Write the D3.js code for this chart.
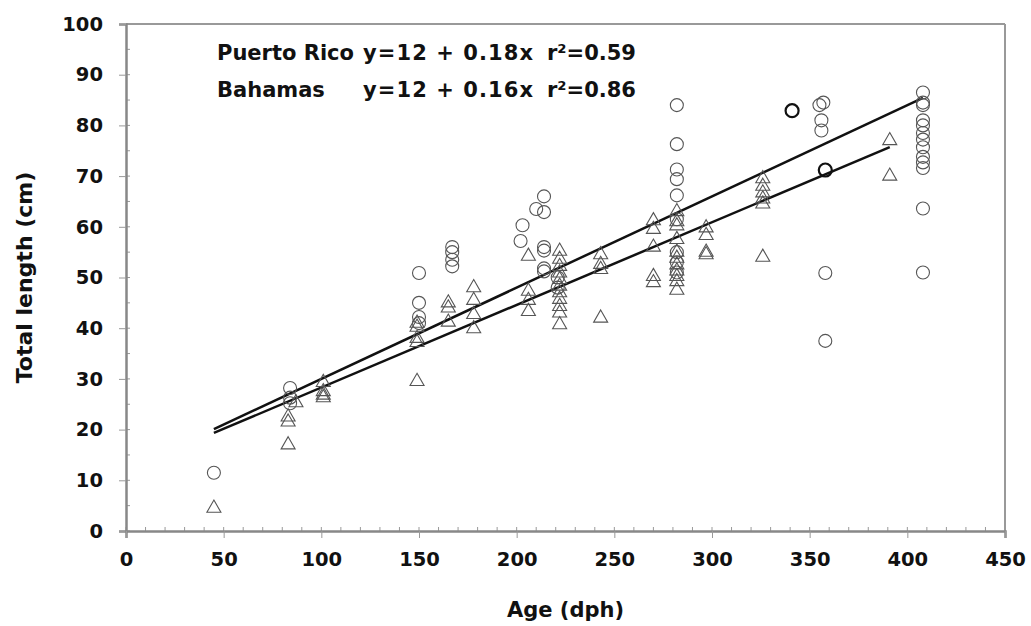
<!DOCTYPE html>
<html>
<head>
<meta charset="utf-8">
<script src="https://cdn.jsdelivr.net/npm/d3@7"></script>
<style>
  body { margin: 0; background: #fff; }
  text { font-family: "DejaVu Sans", Verdana, sans-serif; font-weight: bold; fill: #111; }
</style>
</head>
<body>
<svg id="chart"></svg>
<script>
// Puerto Rico (circles)
let prAge = [45, 84, 84, 84, 150, 150, 150, 150, 167, 167, 167, 167, 203, 202, 214, 210, 214, 214, 214, 214, 214,
             221, 221, 282, 282, 282, 282, 282, 282, 282, 282, 282, 341, 357, 355, 356, 356, 358, 358, 358,
             408, 408, 408, 408, 408, 408, 408, 408, 408, 408, 408, 408, 408]
let prLength = [11.5, 28.2, 26.3, 25.2, 50.9, 45.0, 42.2, 41.0, 56.0, 55.0, 53.5, 52.2, 60.3, 57.2, 66.0, 63.5, 62.9, 56.0, 55.3, 51.8, 51.2,
                50.0, 48.0, 84.0, 76.3, 71.3, 69.4, 66.2, 61.5, 55.0, 53.0, 51.0, 82.9, 84.5, 84.0, 81.0, 79.0, 71.2, 50.9, 37.5,
                86.5, 84.5, 84.0, 81.0, 80.0, 78.5, 77.2, 75.7, 73.8, 72.7, 71.6, 63.6, 51.0]
// darker markers in the original
let prBold = [341, 358]

// Bahamas (triangles)
let bhAge = [45, 83, 83, 83, 87, 101, 101, 101, 101, 149, 149, 149, 149, 149, 165, 165, 165, 178, 178, 178, 178,
             206, 206, 206, 206, 222, 222, 222, 222, 222, 222, 222, 222, 222, 222, 222, 243, 243, 243, 243,
             270, 270, 270, 270, 270, 282, 282, 282, 282, 282, 282, 282, 282, 282, 282, 282,
             297, 297, 297, 297, 326, 326, 326, 326, 326, 326, 391, 391]
let bhLength = [4.5, 22.5, 21.5, 17.0, 25.3, 29.3, 27.5, 26.8, 26.3, 41.0, 40.2, 38.0, 37.2, 29.5, 45.0, 44.0, 41.2, 48.0, 45.5, 42.7, 39.9,
                54.2, 47.3, 45.5, 43.3, 55.2, 53.6, 52.2, 50.9, 49.6, 48.3, 47.0, 45.7, 44.3, 43.0, 40.7, 54.5, 52.6, 51.6, 42.0,
                61.2, 59.5, 56.0, 50.2, 49.0, 63.0, 61.0, 60.2, 57.5, 55.0, 53.8, 52.5, 51.3, 50.2, 49.2, 47.5,
                59.8, 58.3, 55.0, 54.5, 69.5, 68.0, 66.7, 65.5, 64.5, 54.0, 77.0, 70.0]

// regression lines: [intercept, slope, xStart, xEnd]
let prFit = [12, 0.18, 45, 408]
let bhFit = [12, 0.163, 45, 391]

let legendNames = ["Puerto Rico", "Bahamas"]
let legendEq = ["y=12 + 0.18x", "y=12 + 0.16x"]
let legendR2 = ["r\u00B2=0.59", "r\u00B2=0.86"]

let xTicks = d3.range(0, 451, 50)
let yTicks = d3.range(0, 101, 10)

let W = 1031, H = 626
let margin = {left: 126, top: 24, right: 26, bottom: 95}
let width = W - margin.left - margin.right
let height = H - margin.top - margin.bottom

let svg = d3.select("#chart").attr("width", W).attr("height", H)
let g = svg.append("g").attr("transform", "translate(" + margin.left + "," + margin.top + ")")

let x = d3.scaleLinear().domain([0, 450]).range([0, width])
let y = d3.scaleLinear().domain([0, 100]).range([height, 0])

// frame top / right
g.append("line").attr("x1", 0).attr("x2", width).attr("y1", 0).attr("y2", 0)
  .attr("stroke", "#999").attr("stroke-width", 2)
g.append("line").attr("x1", width).attr("x2", width).attr("y1", 0).attr("y2", height)
  .attr("stroke", "#999").attr("stroke-width", 2)

// minor ticks (inside)
g.append("g").selectAll("line").data(d3.range(5, 100, 10)).enter().append("line")
  .attr("x1", 0).attr("x2", 4).attr("y1", d => y(d)).attr("y2", d => y(d))
  .attr("stroke", "#999").attr("stroke-width", 1)
g.append("g").selectAll("line").data(d3.range(10, 450, 10).filter(d => d % 50 != 0)).enter().append("line")
  .attr("x1", d => x(d)).attr("x2", d => x(d)).attr("y1", height).attr("y2", height - 4)
  .attr("stroke", "#999").attr("stroke-width", 1)
// inside part of major ticks
g.append("g").selectAll("line").data(yTicks).enter().append("line")
  .attr("x1", 0).attr("x2", 4).attr("y1", d => y(d)).attr("y2", d => y(d))
  .attr("stroke", "#999").attr("stroke-width", 1)
g.append("g").selectAll("line").data(xTicks).enter().append("line")
  .attr("x1", d => x(d)).attr("x2", d => x(d)).attr("y1", height).attr("y2", height - 4)
  .attr("stroke", "#999").attr("stroke-width", 1)

// axes
let yAxis = g.append("g")
  .call(d3.axisLeft(y).tickValues(yTicks).tickSize(7).tickPadding(16))
let xAxis = g.append("g").attr("transform", "translate(0," + height + ")")
  .call(d3.axisBottom(x).tickValues(xTicks).tickSize(7).tickPadding(14))
for (let a of [xAxis, yAxis]) {
  a.select(".domain").attr("stroke", "#888").attr("stroke-width", 2.5)
  a.selectAll(".tick line").attr("stroke", "#999")
  a.selectAll(".tick text").style("font-size", "19.5px").attr("fill", "#111")
    .style("font-family", "'DejaVu Sans', Verdana, sans-serif").style("font-weight", "bold")
}

// regression lines
for (let f of [prFit, bhFit]) {
  g.append("line")
    .attr("x1", x(f[2])).attr("y1", y(f[0] + f[1] * f[2]))
    .attr("x2", x(f[3])).attr("y2", y(f[0] + f[1] * f[3]))
    .attr("stroke", "#111").attr("stroke-width", 2.5)
}

// circles
g.append("g").selectAll("circle").data(prAge).enter().append("circle")
  .attr("cx", d => x(d)).attr("cy", (d, i) => y(prLength[i])).attr("r", 6.5)
  .attr("fill", "none")
  .attr("stroke", (d, i) => (prBold.includes(d) && prLength[i] > 70) ? "#111" : "#555")
  .attr("stroke-width", (d, i) => (prBold.includes(d) && prLength[i] > 70) ? 2.2 : 1.1)

// triangles
let tri = d3.symbol().type(d3.symbolTriangle).size(85)
g.append("g").selectAll("path").data(bhAge).enter().append("path")
  .attr("d", tri)
  .attr("transform", (d, i) => "translate(" + x(d) + "," + y(bhLength[i]) + ")")
  .attr("fill", "none").attr("stroke", "#555").attr("stroke-width", 1.1)

// legend text
for (let i = 0; i < 2; i++) {
  let ty = 60 + i * 37
  svg.append("text").attr("x", 217).attr("y", ty).style("font-size", "21px").text(legendNames[i])
  svg.append("text").attr("x", 363).attr("y", ty).style("font-size", "21px")
    .attr("textLength", 170).attr("lengthAdjust", "spacing").text(legendEq[i])
  svg.append("text").attr("x", 547).attr("y", ty).style("font-size", "21px").text(legendR2[i])
}

// axis titles
svg.append("text").attr("x", margin.left + width / 2).attr("y", 617)
  .attr("text-anchor", "middle").style("font-size", "21px").text("Age (dph)")
svg.append("text").attr("transform", "translate(32," + (margin.top + height / 2) + ")rotate(-90)")
  .attr("text-anchor", "middle").style("font-size", "22px").text("Total length (cm)")
</script>
</body>
</html>
